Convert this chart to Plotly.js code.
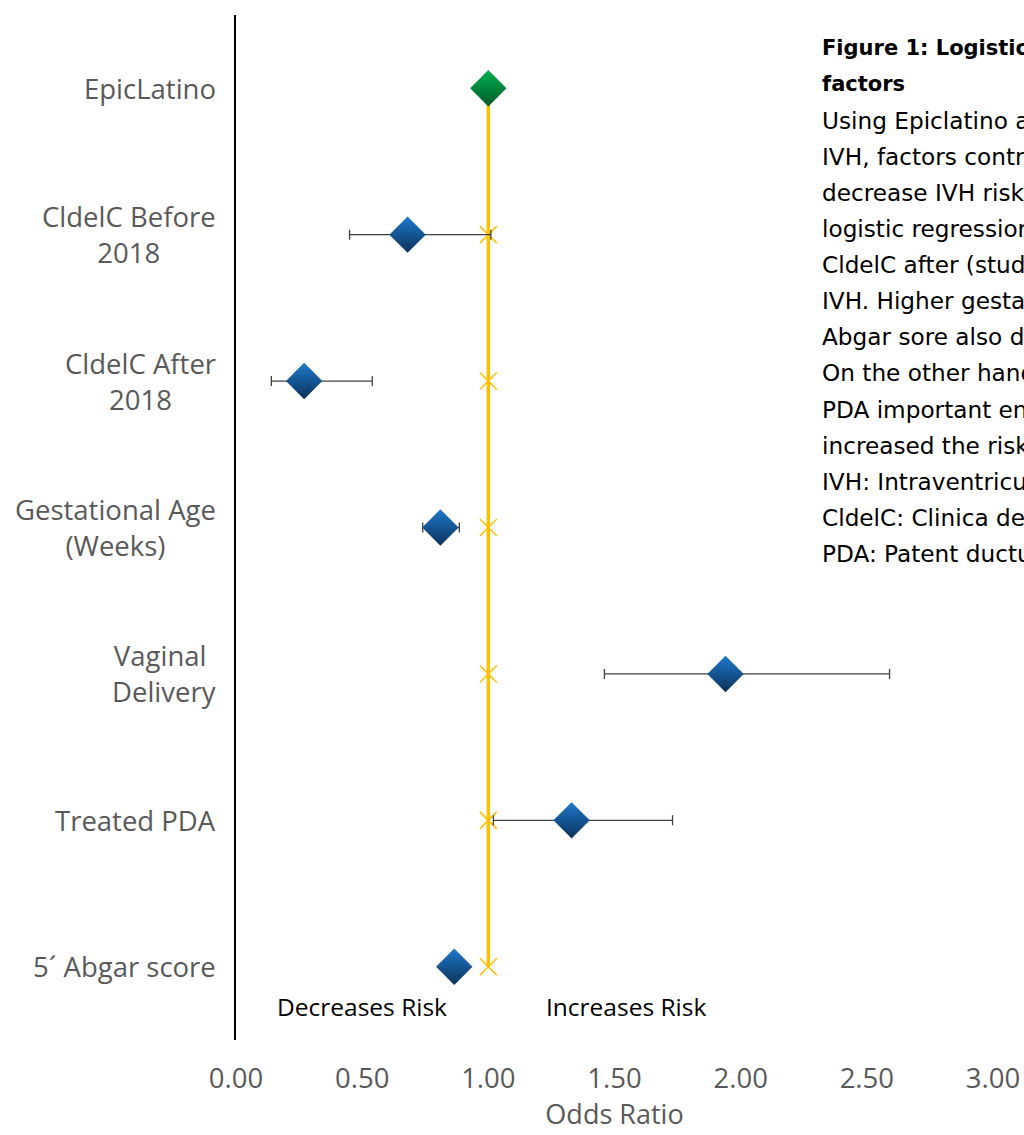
<!DOCTYPE html>
<html>
<head>
<meta charset="utf-8">
<script src="https://cdn.plot.ly/plotly-3.0.1.min.js"></script>
<style>html,body{margin:0;padding:0;background:#fff;overflow:hidden}</style>
</head>
<body>
<div id="chart" style="width:1024px;height:1135px"></div>
<script>
// ---- data ----
const categories = ["EpicLatino", "CldelC Before<br>2018", "CldelC After<br>2018",
  "Gestational Age<br>(Weeks)", "Vaginal <br>Delivery", "Treated PDA", "5\u00b4 Abgar score"];
const oddsRatio = [1.00, 0.68, 0.27, 0.81, 1.94, 1.33, 0.865];
const ciLow     = [null, 0.45, 0.14, 0.74, 1.46, 1.02, null];
const ciHigh    = [null, 1.01, 0.54, 0.885, 2.59, 1.73, null];
const referenceOR = [1, 1, 1, 1, 1, 1, 1];
const xTicks = [0, 0.5, 1, 1.5, 2, 2.5, 3];
const riskLabels = ["Decreases Risk", "Increases Risk"];
const riskLabelX = [0.5, 1.545];
const captionLines = [
  "Figure 1: Logistic regression of IVH risk",
  "factors",
  "Using Epiclatino as reference for",
  "IVH, factors contributing to increase or",
  "decrease IVH risk were evaluated with",
  "logistic regression. Being born in",
  "CldelC after (study period) decreased",
  "IVH. Higher gestational age and 5\u00b4",
  "Abgar sore also decreased the risk.",
  "On the other hand, vaginal delivery and",
  "PDA important enough to be treated",
  "increased the risk of IVH.",
  "IVH: Intraventricular hemorrhage",
  "CldelC: Clinica del Country",
  "PDA: Patent ductus arteriosus"
];
const captionBold = [true, true, false, false, false, false, false, false, false, false, false, false, false, false, false];

// ---- styling ----
const BLUE = "#1f78cc", BLUE_DARK = "#0a3258";
const GREEN = "#00b050", GREEN_DARK = "#005a27";
const GOLD = "#ffc000";
const GRAY = "#595959";

const errPlus = oddsRatio.map((v, i) => ciHigh[i] == null ? 0 : ciHigh[i] - v);
const errMinus = oddsRatio.map((v, i) => ciLow[i] == null ? 0 : v - ciLow[i]);
const isRef = categories.map((c, i) => i === 0);

const refTrace = {
  type: "scatter", mode: "lines+markers",
  x: referenceOR, y: categories,
  line: {color: GOLD, width: 3.5},
  marker: {symbol: "x-thin-open", size: 17, line: {color: GOLD, width: 1.5}, color: GOLD},
  hoverinfo: "skip", showlegend: false
};
const orTrace = {
  type: "scatter", mode: "markers",
  x: oddsRatio, y: categories,
  error_x: {type: "data", symmetric: false, array: errPlus, arrayminus: errMinus,
            color: "#404040", thickness: 1.3, width: 5},
  marker: {symbol: "diamond", size: 28,
           color: isRef.map(r => r ? GREEN : BLUE),
           gradient: {type: "vertical", color: isRef.map(r => r ? GREEN_DARK : BLUE_DARK)},
           line: {width: 0}},
  showlegend: false
};

const PLOT_T = 15, PLOT_H = 1025, PLOT_L = 236, PLOT_W = 757;
const annotations = [];
categories.forEach(c => annotations.push({
  xref: "paper", yref: "y", x: 0, y: c, xanchor: "right", yanchor: "middle",
  xshift: -18, align: "center", text: c, showarrow: false,
  font: {family: "Open Sans, Noto Sans, sans-serif", size: 27.5, color: GRAY}
}));
riskLabels.forEach((t, i) => annotations.push({
  xref: "x", yref: "y", x: riskLabelX[i], y: categories[categories.length - 1],
  yshift: -40, xanchor: "center", yanchor: "middle", text: t, showarrow: false,
  font: {family: "Open Sans, Noto Sans, sans-serif", size: 24.5, color: "#000"}
}));
captionLines.forEach((t, i) => annotations.push({
  xref: "paper", yref: "paper",
  x: (820 - PLOT_L) / PLOT_W, y: 1 - (48 + i * 36.1 - PLOT_T) / PLOT_H,
  xanchor: "left", yanchor: "middle", align: "left", showarrow: false,
  text: captionBold[i] ? "<b>" + t + "</b>" : t,
  font: {family: "DejaVu Sans, sans-serif", size: captionBold[i] ? 21 : 23.2, color: "#000"}
}));

const layout = {
  width: 1024, height: 1135,
  margin: {l: PLOT_L, r: 1024 - PLOT_L - PLOT_W, t: PLOT_T, b: 1135 - PLOT_T - PLOT_H},
  paper_bgcolor: "#fff", plot_bgcolor: "#fff",
  xaxis: {range: [0, 3], tickvals: xTicks, tickformat: ".2f", showgrid: false,
          zeroline: false, showline: false, ticks: "", ticklabelstandoff: 19,
          tickfont: {family: "Open Sans, Noto Sans, sans-serif", size: 27.5, color: GRAY},
          title: {text: "Odds Ratio", standoff: 9,
                  font: {family: "Open Sans, Noto Sans, sans-serif", size: 27, color: GRAY}},
          automargin: false, fixedrange: true},
  yaxis: {type: "category", categoryarray: categories, range: [6.5, -0.5],
          showticklabels: false, showgrid: false, zeroline: false,
          showline: true, linecolor: "#000", linewidth: 2.5, ticks: "",
          automargin: false, fixedrange: true},
  annotations: annotations,
  showlegend: false
};

Plotly.newPlot("chart", [refTrace, orTrace], layout, {displayModeBar: false, staticPlot: true});
</script>
</body>
</html>
